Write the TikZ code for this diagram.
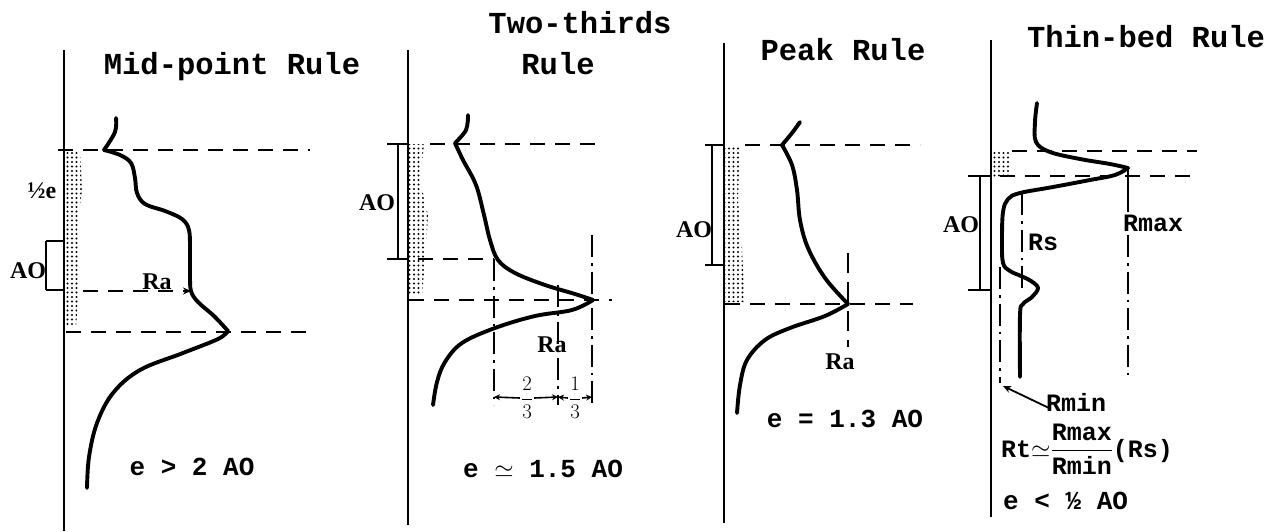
\documentclass[tikz,border=0pt]{standalone}
\usepackage{fontspec}
\usepackage{amsmath}
\setmainfont{Liberation Serif}
\newfontfamily\tw{Liberation Mono}
\usetikzlibrary{patterns.meta,arrows.meta}
\tikzset{
 curve/.style={line width=3.9pt, line cap=round, line join=round},
 axis/.style={line width=2.6pt},
 hdash/.style={line width=2pt, dash pattern=on 15pt off 10pt},
 ddot/.style={line width=2pt, dash pattern=on 22pt off 6pt on 2.5pt off 6pt},
 vdash/.style={line width=2pt, dash pattern=on 20pt off 9pt},
 bracket/.style={line width=2pt},
 shadezone/.style={pattern={Dots[distance=4.5pt,radius=1.05pt]}},
 title/.style={font=\tw\bfseries\fontsize{30.5}{34}\selectfont, anchor=base, inner sep=0pt},
 eq/.style={font=\tw\bfseries\fontsize{26}{30}\selectfont, anchor=base, inner sep=0pt},
 lab/.style={font=\bfseries\fontsize{24}{28}\selectfont, inner sep=0pt},
 mlab/.style={font=\tw\bfseries\fontsize{25}{28}\selectfont, inner sep=0pt},
 frac/.style={font=\fontsize{20}{22}\selectfont, inner sep=1pt},
 tip/.style={-{Stealth[length=8pt,width=7pt]}},
 smalltip/.style={line width=1.6pt, -{Stealth[length=6pt,width=6pt]}},
}
\begin{document}
\begin{tikzpicture}[x=1pt,y=-1pt]
\useasboundingbox (0,0) rectangle (1276,531);
% ---------- titles ----------
\node[title] (t1) at (232,74) {Mid-point Rule};
\node[title] (t2a) at (580,33) {Two-thirds};
\node[title] (t2b) at (558,74) {Rule};
\node[title] (t3) at (843,60) {Peak Rule};
\node[title] (t4) at (1146,47) {Thin-bed Rule};
% ---------- axes ----------
\draw[axis] (64,50) -- (64,531);
\draw[axis] (408,50) -- (408,525);
\draw[axis] (724,43) -- (724,523);
\draw[axis] (991,40) -- (991,517);

% ================= panel 1 =================
\fill[shadezone] (66,150) -- (80,150) -- (82,190) -- (77,230) -- (80,270) -- (76,327) -- (66,327) -- cycle;
\draw[hdash] (58,150) -- (310,150);
\draw[hdash] (66,332) -- (310,332);
\draw[bracket] (46,241) -- (46,290);
\draw[bracket] (46,241) -- (63,241);
\draw[bracket] (46,290) -- (63,290);
\node[lab] (p1half) at (42,191) {½e};
\node[lab] (p1ao) at (28,271) {AO};
\node[lab, anchor=south] (p1ra) at (157,290) {Ra};
\coordinate (p1ra0) at (83,291);
\coordinate (p1ra1) at (191,291);
\draw[hdash, tip] (p1ra0) -- (p1ra1);
\draw[curve] plot[smooth, tension=0.6] coordinates {(116,118) (115,132) (104,150)};
\draw[curve] plot[smooth, tension=0.6] coordinates {(104,150) (120,155) (131,163) (135,178) (137,193) (145,204) (165,211) (182,219) (189,230) (190,250) (190,275) (191,291) (198,302) (214,316) (228,331)};
\draw[curve] plot[smooth, tension=0.6] coordinates {(228,331) (218,339) (183,353) (140,370) (113,393) (97,423) (89,457) (87,488)};
\node[eq] (e1) at (192,475) {e > 2 AO};

% ================= panel 2 =================
\fill[shadezone] (409,144) -- (424,144) -- (420,180) -- (428,215) -- (426,250) -- (422,295) -- (409,295) -- cycle;
\draw[hdash] (430,144) -- (600,144);
\draw[hdash] (418,259) -- (494,259);
\draw[hdash] (409,300) -- (612,300);
\draw[bracket] (398,144) -- (398,259);
\draw[bracket] (387,144) -- (408,144);
\draw[bracket] (387,259) -- (408,259);
\node[lab] (p2ao) at (377,203) {AO};
\draw[ddot] (494,259) -- (494,405);
\draw[ddot] (558,285) -- (558,405);
\draw[ddot] (592,235) -- (592,405);
\node[lab] (p2ra) at (552,345) {Ra};
\draw[curve] plot[smooth, tension=0.6] coordinates {(468,115) (466,130) (455,143)};
\draw[curve] plot[smooth, tension=0.6] coordinates {(455,143) (463,160) (476,185) (484,215) (490,240) (498,260) (515,273) (545,285) (575,294) (593,300)};
\draw[curve] plot[smooth, tension=0.6] coordinates {(593,300) (572,310) (535,316) (495,328) (462,343) (445,362) (437,382) (433,405)};
\node[frac] (f23) at (527,398) {$\dfrac{2}{3}$};
\node[frac] (f13) at (575,398) {$\dfrac{1}{3}$};
\coordinate (d1) at (494,397);
\coordinate (d2) at (558,397);
\coordinate (d3) at (592,397);
\draw[smalltip] (f23.west) -- (d1);
\draw[smalltip] (f23.east) -- (d2);
\draw[smalltip] (f13.west) -- (d2);
\draw[smalltip] (f13.east) -- (d3);
\node[eq] (e2) at (543,477) {e $\simeq$ 1.5 AO};

% ================= panel 3 =================
\fill[shadezone] (725,145) -- (740,145) -- (738,200) -- (742,250) -- (745,302) -- (725,302) -- cycle;
\draw[hdash] (745,145) -- (920,145);
\draw[hdash] (725,304) -- (913,304);
\draw[bracket] (712,145) -- (712,265);
\draw[bracket] (705,145) -- (724,145);
\draw[bracket] (705,265) -- (724,265);
\node[lab] (p3ao) at (694,230) {AO};
\draw[vdash] (848,253) -- (848,347);
\node[lab] (p3ra) at (840,362) {Ra};
\draw[curve] plot[smooth, tension=0.6] coordinates {(800,122) (792,133) (782,145)};
\draw[curve] plot[smooth, tension=0.6] coordinates {(782,145) (792,165) (797,190) (800,220) (808,248) (825,278) (848,304)};
\draw[curve] plot[smooth, tension=0.6] coordinates {(848,304) (825,316) (790,328) (765,340) (747,360) (740,385) (737,413)};
\node[eq] (e3) at (845,427) {e = 1.3 AO};

% ================= panel 4 =================
\fill[shadezone] (992,151) -- (1010,151) -- (1010,176) -- (992,176) -- cycle;
\draw[hdash] (1012,151) -- (1197,151);
\draw[hdash] (1000,176) -- (1197,176);
\draw[bracket] (980,176) -- (980,290);
\draw[bracket] (968,176) -- (990,176);
\draw[bracket] (968,290) -- (990,290);
\node[lab] (p4ao) at (961,225) {AO};
\draw[bracket] (1128,168) -- (1128,212);
\draw[ddot] (1128,235) -- (1128,375);
\draw[ddot] (1022,193) -- (1022,290);
\draw[ddot] (1000,267) -- (1000,383);
\node[mlab] (rmax) at (1153,223) {Rmax};
\node[mlab] (rs) at (1043,242) {Rs};
\draw[curve] plot[smooth, tension=0.6] coordinates {(1037,103) (1035,122) (1036,142) (1050,152) (1080,159) (1110,164) (1128,168)};
\draw[curve] plot[smooth, tension=0.6] coordinates {(1128,168) (1115,175) (1090,180) (1053,187) (1020,193) (1008,199) (1003,212) (1002,240) (1003,263) (1010,271) (1021,276) (1031,281) (1038,288) (1032,297) (1023,304) (1020,315) (1020,377)};
\node[mlab] (rmin) at (1076,402) {Rmin};
\coordinate (rmtail) at (1049,408);
\coordinate (rmtip) at (1003,386);
\draw[line width=1.8pt, tip] (rmtail) -- (rmtip);
\node[mlab, anchor=west] (rt) at (1001,449) {Rt$\simeq$$\dfrac{\text{Rmax}}{\text{Rmin}}$(Rs)};
\node[eq, anchor=base west] (e4) at (1003,509) {e < ½ AO};
\end{tikzpicture}
\end{document}
